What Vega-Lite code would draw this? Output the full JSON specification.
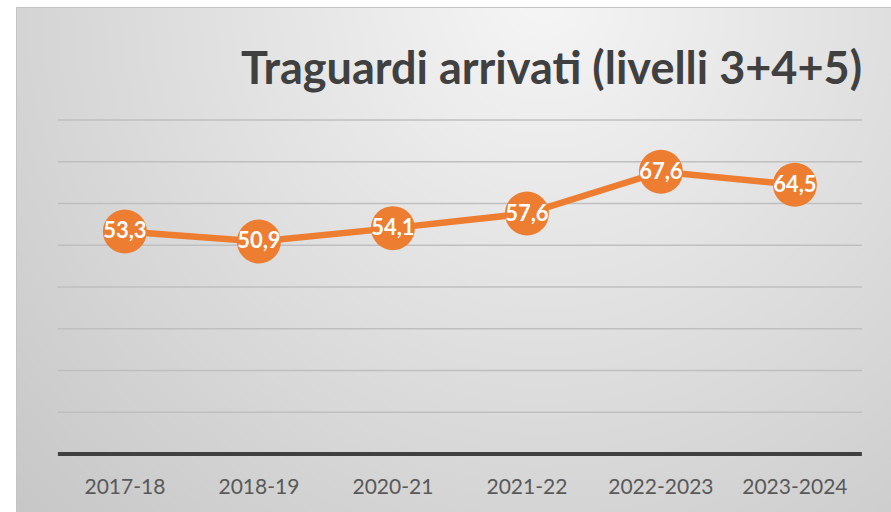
{
  "$schema": "https://vega.github.io/schema/vega-lite/v6.json",
  "width": 875,
  "height": 505,
  "autosize": {"type": "none"},
  "padding": {"left": 16, "top": 7, "right": 0, "bottom": 0},
  "background": "#ffffff",
  "title": {
    "text": "Traguardi arrivati (livelli 3+4+5)",
    "anchor": "end",
    "frame": "group",
    "orient": "top",
    "offset": 0,
    "dx": -29,
    "dy": 122,
    "baseline": "alphabetic",
    "font": "Lato",
    "fontSize": 45,
    "fontWeight": "bold",
    "color": "#404040"
  },
  "config": {
    "locale": {"number": {"decimal": ",", "thousands": ".", "grouping": [3], "currency": ["€", ""]}},
    "view": {
      "fill": {
        "gradient": "radial",
        "x1": 0.6, "y1": 0.2, "r1": 0,
        "x2": 0.6, "y2": 0.2, "r2": 0.85,
        "stops": [
          {"offset": 0, "color": "#f5f5f5"},
          {"offset": 1, "color": "#c6c6c6"}
        ]
      },
      "stroke": "#c4c4c4",
      "strokeWidth": 1
    }
  },
  "datasets": {
    "series": [
      {"anno": "2017-18", "valore": 53.3},
      {"anno": "2018-19", "valore": 50.9},
      {"anno": "2020-21", "valore": 54.1},
      {"anno": "2021-22", "valore": 57.6},
      {"anno": "2022-2023", "valore": 67.6},
      {"anno": "2023-2024", "valore": 64.5}
    ],
    "grid": [
      {"v": 10, "da": "2017-18", "a": "2023-2024"},
      {"v": 20, "da": "2017-18", "a": "2023-2024"},
      {"v": 30, "da": "2017-18", "a": "2023-2024"},
      {"v": 40, "da": "2017-18", "a": "2023-2024"},
      {"v": 50, "da": "2017-18", "a": "2023-2024"},
      {"v": 60, "da": "2017-18", "a": "2023-2024"},
      {"v": 70, "da": "2017-18", "a": "2023-2024"},
      {"v": 80, "da": "2017-18", "a": "2023-2024"}
    ],
    "base": [
      {"v": 0, "da": "2017-18", "a": "2023-2024"}
    ]
  },
  "encoding": {
    "x": {
      "field": "anno",
      "type": "nominal",
      "scale": {
        "type": "band",
        "domain": ["2017-18", "2018-19", "2020-21", "2021-22", "2022-2023", "2023-2024"],
        "paddingInner": 0,
        "paddingOuter": 0.265,
        "align": 0.59
      },
      "axis": {
        "title": null,
        "orient": "bottom",
        "offset": -25,
        "domain": false,
        "ticks": false,
        "tickSize": 0,
        "labelPadding": 0,
        "labelBaseline": "middle",
        "labelAngle": 0,
        "labelFont": "Lato",
        "labelFontSize": 21,
        "labelColor": "#595959",
        "grid": false
      }
    },
    "y": {
      "type": "quantitative",
      "scale": {"domain": [-13.9, 107.07], "nice": false, "zero": false},
      "axis": null
    }
  },
  "layer": [
    {
      "data": {"name": "grid"},
      "mark": {"type": "rule", "color": "#bfbfbf", "strokeWidth": 1.6},
      "encoding": {
        "x": {"field": "da", "type": "nominal", "bandPosition": 0},
        "x2": {"field": "a", "bandPosition": 1},
        "y": {"field": "v", "type": "quantitative"}
      }
    },
    {
      "data": {"name": "base"},
      "mark": {"type": "rule", "color": "#404040", "strokeWidth": 4},
      "encoding": {
        "x": {"field": "da", "type": "nominal", "bandPosition": 0},
        "x2": {"field": "a", "bandPosition": 1},
        "y": {"field": "v", "type": "quantitative"}
      }
    },
    {
      "data": {"name": "series"},
      "mark": {"type": "line", "color": "#ED7D31", "strokeWidth": 6.5},
      "encoding": {
        "y": {"field": "valore", "type": "quantitative"}
      }
    },
    {
      "data": {"name": "series"},
      "mark": {"type": "point", "filled": true, "opacity": 1, "color": "#ED7D31", "size": 1936, "shape": "circle"},
      "encoding": {
        "y": {"field": "valore", "type": "quantitative"}
      }
    },
    {
      "data": {"name": "series"},
      "mark": {"type": "text", "color": "#ffffff", "font": "Lato", "fontSize": 22, "fontWeight": "bold", "baseline": "middle", "align": "center"},
      "encoding": {
        "y": {"field": "valore", "type": "quantitative"},
        "text": {"field": "valore", "type": "quantitative", "format": ".1f"}
      }
    }
  ]
}
